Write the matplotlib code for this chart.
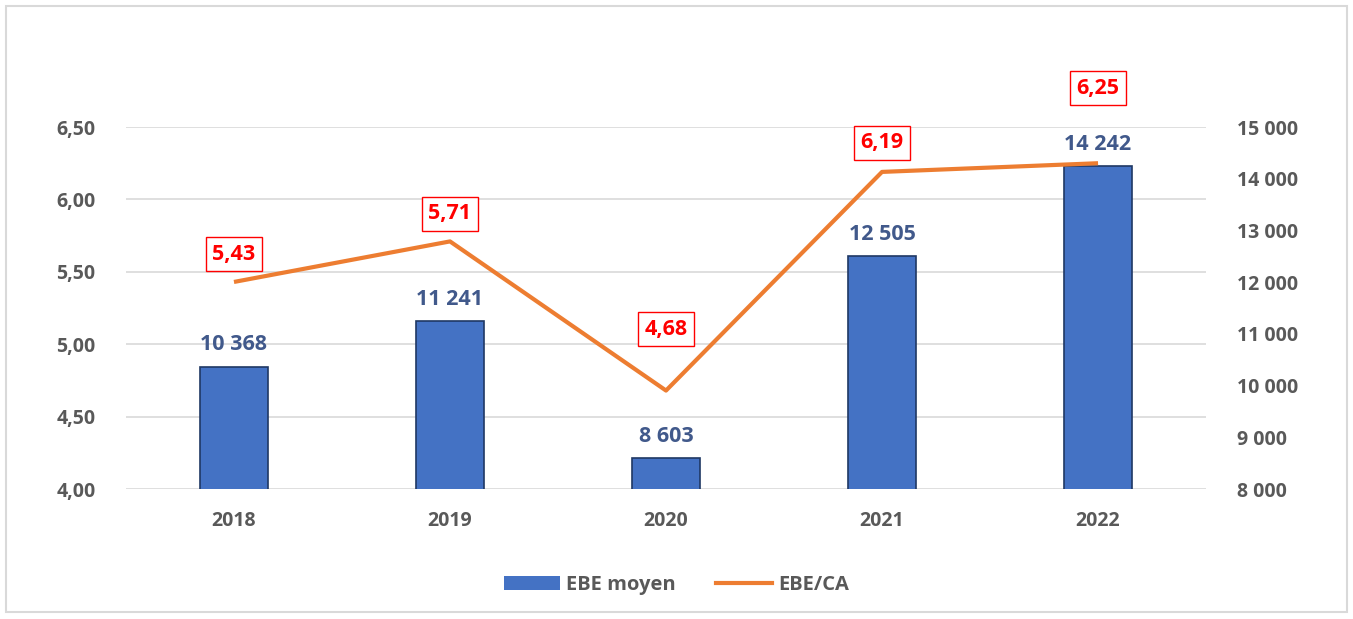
import numpy as np
import matplotlib.pyplot as plt
from matplotlib.patches import Rectangle, Patch
from matplotlib.lines import Line2D
from matplotlib.ticker import FuncFormatter

plt.rcParams['font.family'] = ['Open Sans', 'DejaVu Sans']
plt.rcParams['font.weight'] = 'bold'

# data
years = ['2018', '2019', '2020', '2021', '2022']
ebe_moyen = [10368, 11241, 8603, 12505, 14242]
ebe_ca = [5.43, 5.71, 4.68, 6.19, 6.25]
# label offsets above the line point (points)
ratio_offsets = [20, 20, 44, 21, 54]

grey = '#595959'
x = np.arange(len(years))

fig = plt.figure(figsize=(13.53, 6.19), dpi=100)
ax = fig.add_axes([0.0931, 0.21, 0.7983, 0.5848])   # left axis: ratio + grid
ax2 = ax.twinx()                                     # right axis: bars

ax.set_ylim(4, 6.5)
ax.set_yticks(np.arange(4, 6.51, 0.5))
ax.yaxis.set_major_formatter(FuncFormatter(lambda v, p: '{:.2f}'.format(v).replace('.', ',')))
ax.set_xlim(-0.5, 4.5)
ax.set_xticks(x)
ax.set_xticklabels(years)
ax.yaxis.grid(True, color='#D9D9D9', lw=1.2)
ax.set_axisbelow(True)

#bars on the right axis
ax2.bar(x, ebe_moyen, width=0.315, color='#4472C4', edgecolor='#1F3864', linewidth=1.2, zorder=2)
for xi, v in zip(x, ebe_moyen):
    lab = '{:,}'.format(v).replace(',', ' ')
    ax2.annotate(lab, (xi, v), xytext=(0, 8), textcoords='offset points',
                 ha='center', va='bottom', fontsize=15.5, fontweight='bold', color='#41598B')

#line drawn in the top axes but with left-axis coordinates
ax2.plot(x, ebe_ca, color='#ED7D31', lw=3, zorder=5, solid_capstyle='butt',
         transform=ax.transData)
for xi, v, off in zip(x, ebe_ca, ratio_offsets):
    ax2.annotate('{:.2f}'.format(v).replace('.', ','), (xi, v), xycoords=ax.transData,
                 xytext=(0, off), textcoords='offset points', ha='center', va='center',
                 fontsize=15.5, fontweight='bold', color='#FF0000', zorder=6,
                 bbox=dict(boxstyle='square,pad=0.3', fc='white', ec='#FF0000', lw=1))

ax2.set_ylim(8000, 15000)
ax2.set_yticks(np.arange(8000, 15001, 1000))
ax2.yaxis.set_major_formatter(FuncFormatter(lambda v, p: '{:,}'.format(int(v)).replace(',', ' ')))
ax2.set_xlim(-0.5, 4.5)

for a in (ax, ax2):
    for s in a.spines.values():
        s.set_visible(False)
    a.tick_params(length=0, labelsize=14, labelcolor=grey)
ax.tick_params(axis='y', pad=22)
ax.tick_params(axis='x', pad=16)
ax2.tick_params(axis='y', pad=22)

handles = [Patch(facecolor='#4472C4', edgecolor='none'),
           Line2D([0], [0], color='#ED7D31', lw=3)]
fig.legend(handles, ['EBE moyen', 'EBE/CA'], loc='center', bbox_to_anchor=(0.5, 0.055),
           ncol=2, frameon=False, fontsize=14.5, labelcolor=grey,
           handlelength=2.8, columnspacing=2.0, handletextpad=0.3)

fig.patches.append(Rectangle((6 / 1353, 7 / 619), 1341 / 1353, 606 / 619,
                             transform=fig.transFigure, fill=False,
                             edgecolor='#D9D9D9', lw=1.5))

fig.savefig('out.png', dpi=100)
